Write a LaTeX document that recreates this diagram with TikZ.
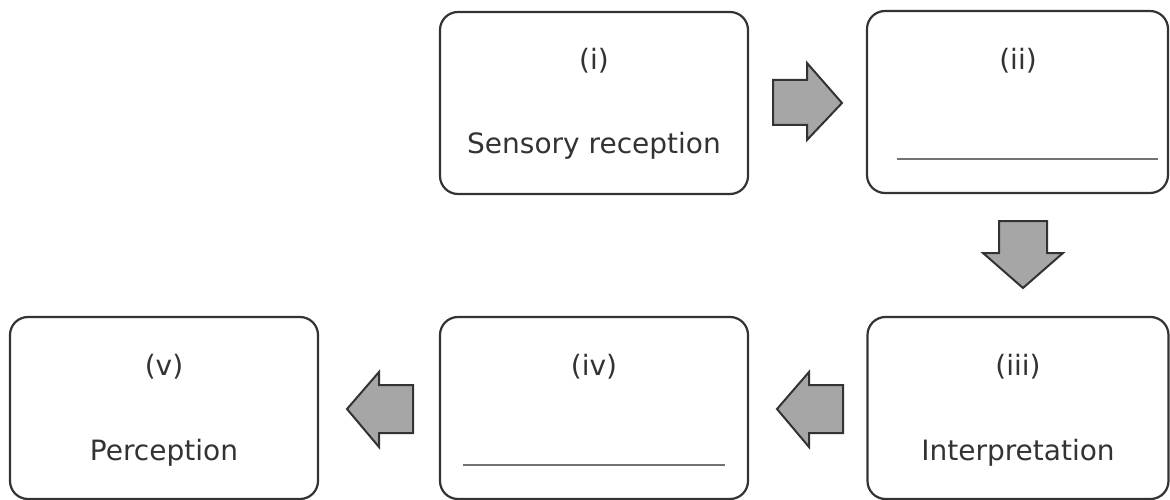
\documentclass[tikz,border=0pt]{standalone}
\usepackage{fontspec}
\setmainfont{DejaVu Sans}
\begin{document}
\begin{tikzpicture}[x=1pt,y=-1pt,
  box/.style={draw=black!80,line width=2.2pt,rounded corners=18pt,minimum width=#1,minimum height=182pt,inner sep=0pt,fill=white},
  box/.default=308pt,
  lbl/.style={font=\fontsize{28}{32}\selectfont,text=black!80,inner sep=0pt},
  blank/.style={draw=black!55,line width=2pt},
  barrow/.style={draw=black!80,fill=black!35,line width=2pt,line join=miter}]
\useasboundingbox (0,0) rectangle (1170,500);
\node[box] (b1) at (594,103) {};
\node[box=301pt] (b2) at (1017.5,102) {};
\node[box=301pt] (b3) at (1018,408) {};
\node[box] (b4) at (594,408) {};
\node[box] (b5) at (164,408) {};
% labels
\node[lbl] (t1) at (594,61) {(i)};
\node[lbl] (s1) at (594,146) {Sensory reception};
\node[lbl] (t2) at (1018,61) {(ii)};
\coordinate (u2a) at (897,159); \coordinate (u2b) at (1158,159);
\draw[blank] (u2a) -- (u2b);
\node[lbl] (t3) at (1018,367) {(iii)};
\node[lbl] (s3) at (1018,453) {Interpretation};
\node[lbl] (t4) at (594,367) {(iv)};
\coordinate (u4a) at (463,465); \coordinate (u4b) at (725,465);
\draw[blank] (u4a) -- (u4b);
\node[lbl] (t5) at (164,367) {(v)};
\node[lbl] (s5) at (164,453) {Perception};
% block arrows
\draw[barrow] (773,80) -- (807,80) -- (807,63) -- (842,103) -- (807,140) -- (807,125) -- (773,125) -- cycle;
\draw[barrow] (999,221) -- (1047,221) -- (1047,253) -- (1063,253) -- (1023,288) -- (983,253) -- (999,253) -- cycle;
\draw[barrow] (843,385) -- (809,385) -- (809,372) -- (777,409) -- (809,447) -- (809,433) -- (843,433) -- cycle;
\begin{scope}[xshift=-430pt]
\draw[barrow] (843,385) -- (809,385) -- (809,372) -- (777,409) -- (809,447) -- (809,433) -- (843,433) -- cycle;
\end{scope}
\end{tikzpicture}
\end{document}
